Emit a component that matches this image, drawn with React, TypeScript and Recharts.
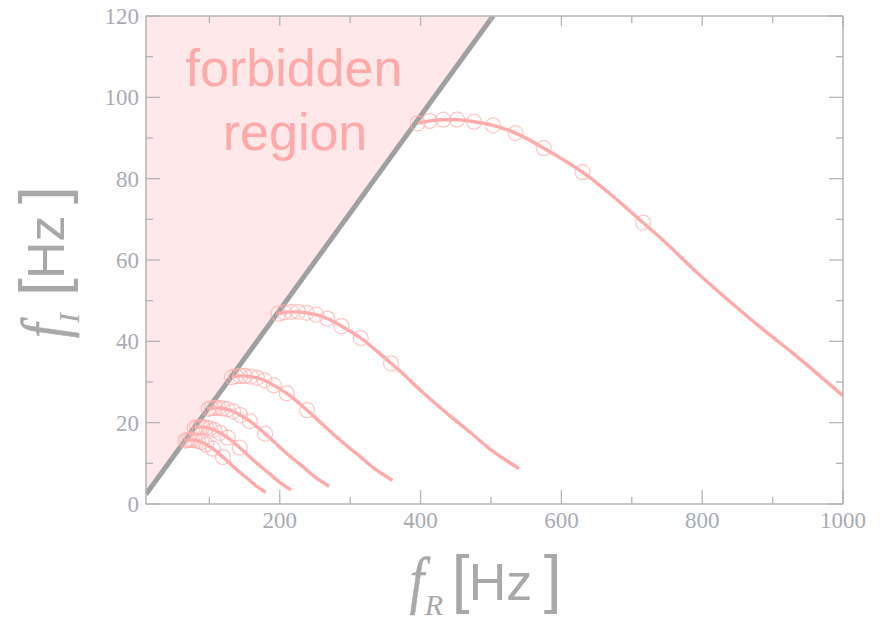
import React from 'react';
import { ComposedChart, XAxis, YAxis, Line, Area } from 'recharts';

// ---------- axes ----------
const X_DOMAIN = [10, 1000];
const X_TICKS = [100, 200, 300, 400, 500, 600, 700, 800, 900, 1000];
const X_LABELS = [200, 400, 600, 800, 1000];
const Y_DOMAIN = [0, 120];
const Y_TICKS = [0, 10, 20, 30, 40, 50, 60, 70, 80, 90, 100, 110, 120];
const Y_LABELS = [0, 20, 40, 60, 80, 100, 120];

// ---------- boundary of the forbidden region ----------
const BOUNDARY_FR = [10, 503];
const BOUNDARY_FI = [2.4, 120];

// ---------- curve 1 ----------
const C1_CIRCLE_FR = [396, 413, 432, 452, 476, 503, 535, 575, 630, 716];
const C1_CIRCLE_FI = [93.6, 94.2, 94.5, 94.5, 94.0, 93.1, 91.2, 87.5, 81.6, 69.2];
const C1_TAIL_FR = [744, 791, 838, 886, 933, 1000];
const C1_TAIL_FI = [64.9, 57.2, 50.0, 43.0, 36.5, 26.6];

// ---------- curve 2 ----------
const C2_CIRCLE_FR = [198, 206.5, 216, 226, 238, 251.5, 267.5, 287.5, 315, 358];
const C2_CIRCLE_FI = [46.8, 47.1, 47.25, 47.25, 47.0, 46.55, 45.6, 43.75, 40.8, 34.6];
const C2_TAIL_FR = [372, 395.5, 419, 443, 466.5, 500, 540];
const C2_TAIL_FI = [32.5, 28.65, 25.0, 21.5, 18.2, 13.3, 8.7];

// ---------- curve 3 ----------
const C3_CIRCLE_FR = [132, 137.7, 144, 150.7, 158.7, 167.7, 178.3, 191.7, 210, 238.7];
const C3_CIRCLE_FI = [31.2, 31.4, 31.5, 31.5, 31.33, 31.03, 30.4, 29.17, 27.2, 23.07];
const C3_TAIL_FR = [248, 263.7, 279.3, 295.3, 311, 333.3, 360];
const C3_TAIL_FI = [21.67, 19.1, 16.67, 14.33, 12.13, 8.87, 5.8];

// ---------- curve 4 ----------
const C4_CIRCLE_FR = [99, 103.3, 108, 113, 119, 125.8, 133.8, 143.8, 157.5, 179];
const C4_CIRCLE_FI = [23.4, 23.55, 23.63, 23.63, 23.5, 23.28, 22.8, 21.88, 20.4, 17.3];
const C4_TAIL_FR = [186, 197.8, 209.5, 221.5, 233.3, 250, 270];
const C4_TAIL_FI = [16.25, 14.33, 12.5, 10.75, 9.1, 6.65, 4.35];

// ---------- curve 5 ----------
const C5_CIRCLE_FR = [79.2, 82.6, 86.4, 90.4, 95.2, 100.6, 107, 115, 126, 143.2];
const C5_CIRCLE_FI = [18.72, 18.84, 18.9, 18.9, 18.8, 18.62, 18.24, 17.5, 16.32, 13.84];
const C5_TAIL_FR = [148.8, 158.2, 167.6, 177.2, 186.6, 200, 216];
const C5_TAIL_FI = [13.0, 11.46, 10.0, 8.6, 7.28, 5.32, 3.48];

// ---------- curve 6 ----------
const C6_CIRCLE_FR = [66, 68.8, 72, 75.3, 79.3, 83.8, 89.2, 95.8, 105, 119.3];
const C6_CIRCLE_FI = [15.6, 15.7, 15.75, 15.75, 15.67, 15.52, 15.2, 14.58, 13.6, 11.53];
const C6_TAIL_FR = [124, 131.8, 139.7, 147.7, 155.5, 166.7, 180];
const C6_TAIL_FI = [10.83, 9.55, 8.33, 7.17, 6.07, 4.43, 2.9];

const CURVES = [
  { cFR: C1_CIRCLE_FR, cFI: C1_CIRCLE_FI, tFR: C1_TAIL_FR, tFI: C1_TAIL_FI },
  { cFR: C2_CIRCLE_FR, cFI: C2_CIRCLE_FI, tFR: C2_TAIL_FR, tFI: C2_TAIL_FI },
  { cFR: C3_CIRCLE_FR, cFI: C3_CIRCLE_FI, tFR: C3_TAIL_FR, tFI: C3_TAIL_FI },
  { cFR: C4_CIRCLE_FR, cFI: C4_CIRCLE_FI, tFR: C4_TAIL_FR, tFI: C4_TAIL_FI },
  { cFR: C5_CIRCLE_FR, cFI: C5_CIRCLE_FI, tFR: C5_TAIL_FR, tFI: C5_TAIL_FI },
  { cFR: C6_CIRCLE_FR, cFI: C6_CIRCLE_FI, tFR: C6_TAIL_FR, tFI: C6_TAIL_FI },
];

const zip = (xs: number[], ys: number[]) => xs.map((x, i) => ({ fR: x, fI: ys[i] }));

const curveSeries = CURVES.map((c) => ({
  circles: zip(c.cFR, c.cFI),
  line: zip(c.cFR.concat(c.tFR), c.cFI.concat(c.tFI)),
}));

const boundaryData = zip(BOUNDARY_FR, BOUNDARY_FI);
const forbiddenData = BOUNDARY_FR.map((x, i) => ({ fR: x, range: [BOUNDARY_FI[i], Y_DOMAIN[1]] }));

// ---------- styles ----------
const FRAME = '#b5b5b5';
const TICK_TEXT = '#a9abb2';
const TITLE = '#a8a8a8';
const PINK = '#ffaaaa';
const CIRCLE = '#ffb0b0';
const FORBIDDEN_FILL = '#fee8ea';
const BOUNDARY = '#a0a0a0';
const SERIF = '"Liberation Serif", "Times New Roman", serif';
const SANS = '"Liberation Sans", Arial, sans-serif';

const BottomTick = (props: any) => {
  const { x, y, payload } = props;
  const major = X_LABELS.includes(payload.value);
  return (
    <g>
      <line x1={x} x2={x} y1={y} y2={y - (major ? 14 : 7)} stroke={FRAME} strokeWidth={1.3} />
      {major && (
        <text x={x} y={y + 24} textAnchor="middle" fontFamily={SERIF} fontSize={23} fill={TICK_TEXT}>
          {payload.value}
        </text>
      )}
    </g>
  );
};

const TopTick = (props: any) => {
  const { x, y, payload } = props;
  const major = X_LABELS.includes(payload.value);
  return <line x1={x} x2={x} y1={y} y2={y + (major ? 10 : 7)} stroke={FRAME} strokeWidth={1.3} />;
};

const LeftTick = (props: any) => {
  const { x, y, payload } = props;
  const major = Y_LABELS.includes(payload.value);
  return (
    <g>
      <line x1={x} x2={x + (major ? 14 : 7)} y1={y} y2={y} stroke={FRAME} strokeWidth={1.3} />
      {major && (
        <text x={x - 7} y={y + 8} textAnchor="end" fontFamily={SERIF} fontSize={23} fill={TICK_TEXT}>
          {payload.value}
        </text>
      )}
    </g>
  );
};

const RightTick = (props: any) => {
  const { x, y, payload } = props;
  const major = Y_LABELS.includes(payload.value);
  return <line x1={x} x2={x - (major ? 14 : 7)} y1={y} y2={y} stroke={FRAME} strokeWidth={1.3} />;
};

const AxisTitle = ({ sub, transform }: { sub: string; transform: string }) => (
  <g transform={transform} fill={TITLE}>
    <text
      transform="translate(9,1) scale(0.82,1)"
      fontFamily={SERIF}
      fontStyle="italic"
      fontSize={64}
      stroke={TITLE}
      strokeWidth={0.6}
    >
      f
    </text>
    <text x={24} y={15} fontFamily={SERIF} fontStyle="italic" fontSize={30}>
      {sub}
    </text>
    <text x={51} y={1} fontFamily={SANS} fontSize={64}>
      [
    </text>
    <text x={68} y={0} fontFamily={SANS} fontSize={52}>
      Hz
    </text>
    <text x={143} y={1} fontFamily={SANS} fontSize={64}>
      ]
    </text>
  </g>
);

export default function App() {
  return (
    <div style={{ position: 'absolute', left: 0, top: 0, width: 883, height: 620, background: '#fff' }}>
      <ComposedChart width={883} height={620} margin={{ top: 15, right: 39, bottom: 0, left: 0 }}>
        <XAxis
          xAxisId="b"
          type="number"
          dataKey="fR"
          domain={X_DOMAIN}
          ticks={X_TICKS}
          interval={0}
          allowDataOverflow
          orientation="bottom"
          height={116}
          tickSize={0}
          tickMargin={0}
          tickLine={false}
          axisLine={{ stroke: FRAME, strokeWidth: 1.5 }}
          tick={<BottomTick />}
        />
        <XAxis
          xAxisId="t"
          type="number"
          dataKey="fR"
          domain={X_DOMAIN}
          ticks={X_TICKS}
          interval={0}
          allowDataOverflow
          orientation="top"
          height={1}
          tickSize={0}
          tickMargin={0}
          tickLine={false}
          axisLine={{ stroke: FRAME, strokeWidth: 1.5 }}
          tick={<TopTick />}
        />
        <YAxis
          yAxisId="l"
          type="number"
          domain={Y_DOMAIN}
          ticks={Y_TICKS}
          interval={0}
          allowDataOverflow
          orientation="left"
          width={146}
          tickSize={0}
          tickMargin={0}
          tickLine={false}
          axisLine={{ stroke: FRAME, strokeWidth: 1.5 }}
          tick={<LeftTick />}
        />
        <YAxis
          yAxisId="r"
          type="number"
          domain={Y_DOMAIN}
          ticks={Y_TICKS}
          interval={0}
          allowDataOverflow
          orientation="right"
          width={1}
          tickSize={0}
          tickMargin={0}
          tickLine={false}
          axisLine={{ stroke: FRAME, strokeWidth: 1.5 }}
          tick={<RightTick />}
        />
        <Area
          xAxisId="b"
          yAxisId="l"
          data={forbiddenData}
          dataKey="range"
          type="linear"
          stroke="none"
          fill={FORBIDDEN_FILL}
          fillOpacity={1}
          isAnimationActive={false}
          dot={false}
          activeDot={false}
        />
        <Line
          xAxisId="b"
          yAxisId="l"
          data={boundaryData}
          dataKey="fI"
          type="linear"
          stroke={BOUNDARY}
          strokeWidth={5}
          dot={false}
          activeDot={false}
          isAnimationActive={false}
        />
        {curveSeries.map((c, i) => (
          <Line
            key={'l' + i}
            xAxisId="b"
            yAxisId="l"
            data={c.line}
            dataKey="fI"
            type="monotone"
            stroke={PINK}
            strokeWidth={3.4}
            dot={false}
            activeDot={false}
            isAnimationActive={false}
          />
        ))}
        {curveSeries.map((c, i) => (
          <Line
            key={'c' + i}
            xAxisId="b"
            yAxisId="l"
            data={c.circles}
            dataKey="fI"
            type="linear"
            stroke="none"
            strokeWidth={0}
            dot={{ r: 7.5, fill: 'none', stroke: CIRCLE, strokeWidth: 1.2, strokeOpacity: 0.75 }}
            activeDot={false}
            isAnimationActive={false}
          />
        ))}
      </ComposedChart>
      <svg
        width={883}
        height={620}
        style={{ position: 'absolute', left: 0, top: 0, pointerEvents: 'none' }}
      >
        <text x={294} y={86} textAnchor="middle" fontFamily={SANS} fontSize={52} fill={PINK}>
          forbidden
        </text>
        <text x={295} y={150} textAnchor="middle" fontFamily={SANS} fontSize={52} fill={PINK}>
          region
        </text>
        <AxisTitle sub="R" transform="translate(400.7,599.7)" />
        <AxisTitle sub="I" transform="translate(64,347) rotate(-90)" />
      </svg>
    </div>
  );
}
